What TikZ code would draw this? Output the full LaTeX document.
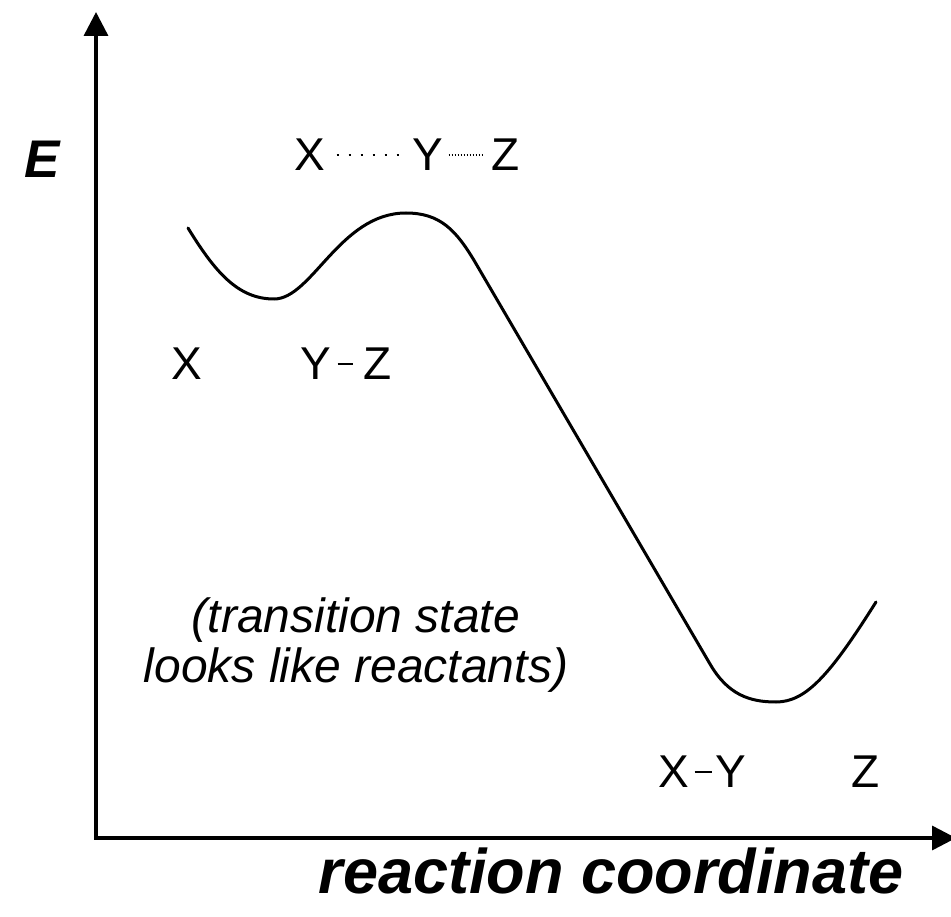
\documentclass[tikz,border=0pt]{standalone}
\usepackage{fontspec}
\setmainfont{Liberation Sans}
\usetikzlibrary{arrows.meta}
\tikzset{>={Triangle[length=24pt,width=24pt]},
 every node/.style={inner sep=0pt},
 atom/.style={font=\fontsize{46}{50}\selectfont},
 axis/.style={line width=3.5pt,line join=miter,<->},
 curve/.style={line width=3pt,line cap=round},
 bond/.style={line width=2pt},
 weak/.style={line width=2pt,dash pattern=on 2pt off 10pt},
 partial/.style={line width=1.6pt,dash pattern=on 1.5pt off 1.5pt}}

\begin{document}
\begin{tikzpicture}[x=1pt,y=-1pt]
\useasboundingbox (0,0) rectangle (951,917);
% axes
\coordinate (O) at (96,838);
\coordinate (Etip) at (96,12);
\coordinate (Rtip) at (956,838);
\draw[axis] (Etip) -- (O) -- (Rtip);
\node[anchor=base,font=\fontsize{53}{56}\selectfont\bfseries\itshape] (Elab) at (42,178) {E};
\node[anchor=base,font=\fontsize{63}{66}\selectfont\bfseries\itshape] (rclab) at (611,893) {reaction coordinate};
% energy profile
\draw[curve] (188,228) .. controls (215,272) and (238,299) .. (274,299)
 .. controls (312,299) and (340,213) .. (406,213)
 .. controls (440,213) and (456,230) .. (475,262)
 -- (710,664)
 .. controls (728,695) and (750,702) .. (776,702)
 .. controls (806,702) and (830,675) .. (876,602);
% transition state
\node[atom] (tX) at (310,155) {X};
\node[atom] (tY) at (428,155) {Y};
\node[atom] (tZ) at (506,155) {Z};
\draw[weak,shorten <=11pt,shorten >=4pt] (tX) -- (tY);
\draw[partial,shorten <=5pt,shorten >=8pt] (tY) -- (tZ);
% reactants
\node[atom] (rX) at (187,364) {X};
\node[atom] (rY) at (316,364) {Y};
\node[atom] (rZ) at (378,364) {Z};
\draw[bond,shorten <=6pt,shorten >=11pt] (rY) -- (rZ);
% products
\node[atom] (pX) at (674,772) {X};
\node[atom] (pY) at (731,772) {Y};
\node[atom] (pZ) at (866,772) {Z};
\draw[bond,shorten <=5pt,shorten >=3pt] (pX) -- (pY);
% note
\node[align=center,font=\fontsize{48}{50}\selectfont\itshape] (note) at (356,645)
 {(transition state\\looks like reactants)};
\end{tikzpicture}
\end{document}
